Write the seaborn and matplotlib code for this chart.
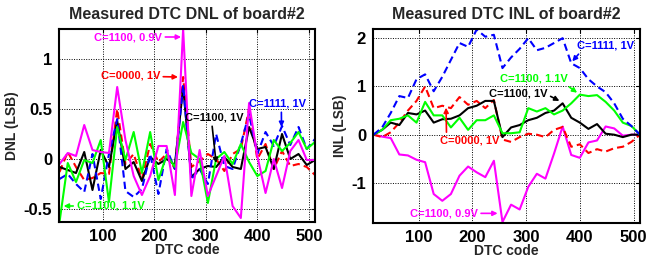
import matplotlib
matplotlib.use("Agg")
import matplotlib.pyplot as plt
import seaborn as sns
import pandas as pd
import numpy as np

codes = list(range(16, 513, 16))

# DNL (LSB) per series
dnl_c1100_09 = [-0.05, 0.06, 0.03, 0.34, 0.09, 0.07, 0.06, 0.72, 0.19, -0.17,
                -0.36, -0.17, 0.13, 0.13, -0.36, 1.30, -0.37, 0.09, -0.37, -0.17,
                0.03, -0.47, -0.59, 0.56, 0.03, -0.34, 0.00, -0.29, 0.08, 0.19,
                -0.01, -0.01]
dnl_c0000_1 = [-0.13, 0.07, -0.08, -0.21, -0.19, -0.14, -0.15, 0.50, -0.05, 0.05,
               -0.20, 0.15, -0.03, 0.05, -0.10, 0.82, -0.08, -0.02, 0.05, 0.00,
               -0.12, 0.05, 0.10, 0.50, 0.00, 0.15, -0.10, 0.08, -0.07, -0.05,
               -0.08, -0.16]
dnl_c1100_1 = [-0.08, -0.11, -0.14, 0.07, -0.31, 0.09, -0.08, 0.38, -0.10, -0.03,
               -0.22, 0.02, -0.05, 0.00, -0.06, 0.72, -0.18, -0.10, -0.07, -0.08,
               0.02, -0.08, -0.10, 0.32, 0.10, 0.12, -0.10, 0.25, 0.00, 0.05,
               -0.06, -0.01]
dnl_c1111_1 = [-0.20, -0.15, -0.25, -0.33, 0.05, -0.40, 0.05, 0.40, -0.32, -0.38,
               -0.30, 0.05, -0.35, 0.10, -0.10, 0.74, -0.20, -0.10, -0.25, 0.25,
               -0.07, -0.10, 0.15, 0.45, 0.05, 0.27, 0.13, 0.33, 0.14, 0.32,
               0.10, 0.20]
dnl_c1100_11 = [-0.63, -0.04, -0.23, -0.01, -0.04, 0.19, -0.43, 0.32, -0.01, 0.27,
                -0.14, 0.27, -0.21, 0.04, -0.08, 0.37, 0.06, 0.00, -0.44, 0.00,
                0.07, -0.05, 0.15, -0.03, -0.17, -0.12, 0.19, 0.08, 0.16, 0.27,
                0.10, 0.17]

# INL (LSB) per series
inl_c1100_09 = [0.00, -0.04, -0.07, -0.41, -0.43, -0.52, -0.57, -1.23, -1.37, -1.23,
                -0.85, -0.66, -0.78, -0.88, -0.54, -1.81, -1.45, -1.55, -1.08, -0.81,
                -0.91, -0.39, 0.17, -0.42, -0.48, -0.16, -0.12, 0.17, 0.13, -0.02,
                0.00, 0.00]
inl_c0000_1 = [0.00, -0.05, 0.05, 0.25, 0.50, 0.70, 1.00, 0.55, 0.60, 0.55,
               0.78, 0.62, 0.70, 0.55, 0.72, -0.10, -0.15, -0.05, 0.02, 0.00,
               -0.05, 0.10, 0.16, -0.25, -0.20, -0.38, -0.30, -0.35, -0.28, -0.25,
               -0.15, 0.00]
inl_c1100_1 = [0.00, 0.10, 0.25, 0.20, 0.45, 0.42, 0.50, 0.25, 0.32, 0.33,
               0.40, 0.55, 0.60, 0.70, 0.70, -0.05, 0.15, 0.20, 0.30, 0.35,
               0.45, 0.50, 0.65, 0.35, 0.25, 0.12, 0.22, 0.02, 0.00, -0.05,
               0.00, 0.00]
inl_c1111_1 = [0.00, 0.15, 0.45, 0.80, 0.76, 1.15, 1.25, 0.90, 1.20, 1.55,
               1.90, 1.82, 2.18, 2.03, 2.07, 1.38, 1.60, 1.78, 2.00, 1.75,
               1.80, 1.90, 2.00, 1.48, 1.38, 1.15, 1.00, 0.88, 0.65, 0.33,
               0.18, 0.00]
inl_c1100_11 = [0.00, 0.10, 0.30, 0.33, 0.40, 0.25, 0.68, 0.40, 0.40, 0.15,
                0.35, 0.10, 0.30, 0.30, 0.40, 0.03, 0.03, 0.05, 0.55, 0.48,
                0.55, 0.42, 0.50, 0.65, 0.83, 0.80, 0.82, 0.68, 0.50, 0.25,
                0.18, 0.00]

xticks = [100, 200, 300, 400, 500]
dnl_yticks = [-0.5, 0, 0.5, 1]
dnl_yticklabels = ["-0.5", "0", "0.5", "1"]
inl_yticks = [-1, 0, 1, 2]
inl_yticklabels = ["-1", "0", "1", "2"]

sns.set_theme(style="white")
plt.rcParams["font.family"] = ["Liberation Sans", "DejaVu Sans"]

MAG = "#FF00FF"
RED = "#FF0000"
BLK = "#000000"
BLU = "#0000FF"
GRN = "#00FF00"

series_dnl = [
    (dnl_c0000_1, RED, "--"),
    (dnl_c1100_1, BLK, "-"),
    (dnl_c1111_1, BLU, "--"),
    (dnl_c1100_11, GRN, "-"),
    (dnl_c1100_09, MAG, "-"),
]
series_inl = [
    (inl_c1100_09, MAG, "-"),
    (inl_c0000_1, RED, "--"),
    (inl_c1100_1, BLK, "-"),
    (inl_c1100_11, GRN, "-"),
    (inl_c1111_1, BLU, "--"),
]

fig = plt.figure(figsize=(6.49, 2.57), dpi=100)
ax1 = fig.add_axes([59 / 649, 35 / 257, 256 / 649, 193 / 257])
ax2 = fig.add_axes([373 / 649, 34 / 257, 267 / 649, 194 / 257])


def draw(ax, series):
    for vals, col, ls in series:
        df = pd.DataFrame({"code": codes, "v": vals})
        sns.lineplot(data=df, x="code", y="v", ax=ax, color=col,
                     linewidth=1.5, estimator=None, sort=False)
        line = ax.get_lines()[-1]
        if ls == "--":
            line.set_dashes((3.5, 2))


def style(ax, title, ylabel, ylim, yt, ytl):
    ax.set_xlim(15, 512)
    ax.set_ylim(*ylim)
    ax.set_xticks(xticks)
    ax.set_xticklabels([str(t) for t in xticks])
    ax.set_yticks(yt)
    ax.set_yticklabels(ytl)
    ax.grid(True, color="black", linestyle=(0, (1, 1.5)), linewidth=0.7)
    ax.set_axisbelow(True)
    for s in ax.spines.values():
        s.set_color("black")
        s.set_linewidth(1.5)
    ax.tick_params(direction="in", length=3, width=0.8, top=True, right=True,
                   labelsize=12, pad=5, colors="black")
    for lab in ax.get_xticklabels() + ax.get_yticklabels():
        lab.set_fontweight("bold")
    ax.set_title(title, fontsize=11.5, fontweight="bold", pad=7)
    ax.set_xlabel("DTC code", fontsize=10, fontweight="bold", labelpad=-1)
    ax.set_ylabel(ylabel, fontsize=10, fontweight="bold", labelpad=3)


draw(ax1, series_dnl)
draw(ax2, series_inl)
style(ax1, "Measured DTC DNL of board#2", "DNL (LSB)", (-0.63, 1.3),
      dnl_yticks, dnl_yticklabels)
style(ax2, "Measured DTC INL of board#2", "INL (LSB)", (-1.83, 2.19),
      inl_yticks, inl_yticklabels)


def ann(ax, text, head, tpos, col, ha="center", va="center", relpos=(0.5, 0.5)):
    ax.annotate(text, xy=head, xytext=tpos, color=col, fontsize=8,
                fontweight="bold", ha=ha, va=va,
                arrowprops=dict(arrowstyle="-|>", color=col, lw=1.2,
                                mutation_scale=7, shrinkA=0, shrinkB=0,
                                relpos=relpos))


# DNL annotations
ann(ax1, "C=1100, 0.9V", (252, 1.22), (215, 1.22), MAG, ha="right")
ann(ax1, "C=0000, 1V", (246, 0.82), (211, 0.83), RED, ha="right")
ann(ax1, "C=1100, 1V", (320, -0.04), (316, 0.41), BLK, relpos=(0.46, 0.1))
ann(ax1, "C=1111, 1V", (447, 0.32), (440, 0.55), BLU, relpos=(0.56, 0.1))
ann(ax1, "C=1100, 1.1V", (24, -0.47), (49, -0.47), GRN, ha="left")

# INL annotations
ann(ax2, "C=1111, 1V", (386, 1.52), (394, 1.84), BLU, ha="left", relpos=(0.1, 0.1))
ann(ax2, "C=1100, 1.1V", (395, 0.87), (315, 1.16), GRN, relpos=(0.93, 0.1))
ann(ax2, "C=1100, 1V", (362, 0.70), (285, 0.85), BLK, relpos=(1.0, 0.4))
ann(ax2, "C=0000, 1V", (151, 0.56), (195, -0.12), RED, relpos=(0.11, 0.9))
ann(ax2, "C=1100, 0.9V", (247, -1.63), (210, -1.63), MAG, ha="right")

fig.savefig("out.png", dpi=100)
